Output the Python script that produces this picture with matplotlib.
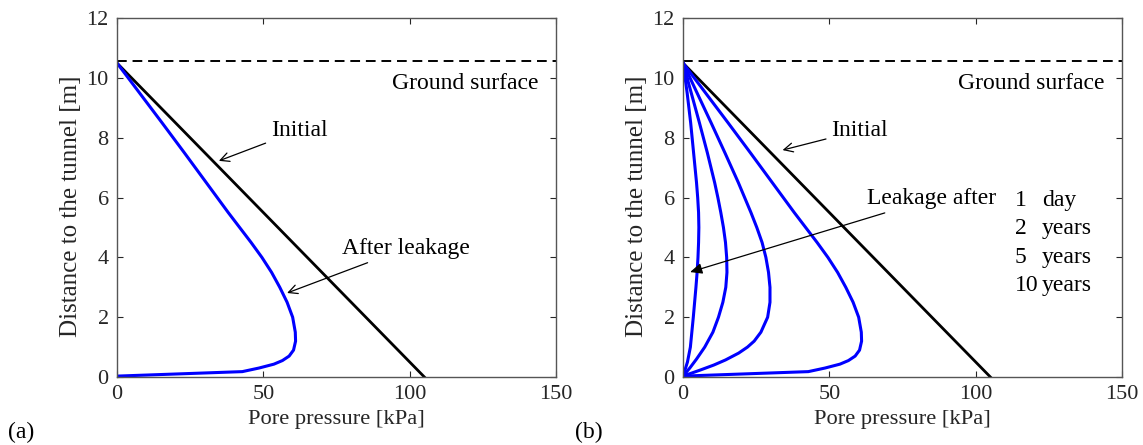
import matplotlib.pyplot as plt

plt.rcParams['font.family'] = ['Liberation Serif', 'DejaVu Serif']

# initial (hydrostatic) profile
init_p = [0, 105]
init_z = [10.5, 0]
ground_z = 10.58

# after 10 years of leakage (panel a and outermost curve of panel b)
z_10y = [10.5, 9.5, 8.5, 7.5, 6.5, 5.5, 4.5, 4.0, 3.5, 3.0, 2.5, 2.0, 1.5,
         1.2, 0.9, 0.7, 0.55, 0.43, 0.3, 0.18, 0.03]
p_10y = [0, 7.7, 15.4, 23.0, 30.5, 38.0, 45.8, 49.5, 52.8, 55.6, 58.1, 60.0,
         60.9, 61.0, 60.3, 58.8, 56.5, 53.6, 48.5, 42.8, 0]

# 1 day
z_1d = [10.5, 9.5, 8.5, 7.5, 6.5, 6.0, 5.5, 5.0, 4.5, 4.0, 3.5, 3.0, 2.0,
        1.0, 0.5, 0.03]
p_1d = [0, 1.4, 2.6, 3.6, 4.6, 5.0, 5.3, 5.4, 5.3, 5.1, 4.8, 4.4, 3.5,
        2.5, 1.5, 0]

# 2 years
z_2y = [10.5, 9.5, 8.5, 7.5, 6.5, 6.0, 5.5, 5.0, 4.5, 4.0, 3.5, 3.0, 2.5,
        2.0, 1.5, 1.0, 0.6, 0.3, 0.03]
p_2y = [0, 2.8, 5.6, 8.3, 10.8, 11.9, 12.9, 13.8, 14.5, 14.9, 15.0, 14.6,
        13.6, 12.1, 10.2, 7.4, 4.6, 2.3, 0]

# 5 years
z_5y = [10.5, 9.5, 8.5, 7.5, 6.5, 5.5, 5.0, 4.5, 4.0, 3.5, 3.0, 2.5, 2.0,
        1.5, 1.2, 1.0, 0.8, 0.57, 0.4, 0.23, 0.03]
p_5y = [0, 4.8, 9.6, 14.3, 18.9, 23.2, 25.2, 27.0, 28.3, 29.2, 29.7, 29.7,
        28.9, 26.6, 24.3, 22.0, 19.0, 14.5, 10.5, 5.8, 0]

durations = ['1', '2', '5', '10']
units = ['day', 'years', 'years', 'years']

axis_col = '#555555'
text_col = '#262626'

fig = plt.figure(figsize=(11.43, 4.45), dpi=100)
ax1 = fig.add_axes([0.1024, 0.1528, 0.3841, 0.8062])
ax2 = fig.add_axes([0.5976, 0.1528, 0.3841, 0.8062])

open_arrow = dict(arrowstyle='->,head_length=0.4,head_width=0.2', color='black',
                  lw=0.9, mutation_scale=16, shrinkA=2, shrinkB=0)
solid_arrow = dict(arrowstyle='-|>,head_length=0.45,head_width=0.2', color='black',
                   lw=0.9, mutation_scale=16, shrinkA=2, shrinkB=0)


def style(ax):
    ax.set_xlim(0, 150)
    ax.set_ylim(0, 12)
    ax.set_xticks([0, 50, 100, 150])
    ax.set_yticks([0, 2, 4, 6, 8, 10, 12])
    ax.tick_params(direction='in', top=True, right=True, length=4,
                   labelsize=16, colors=text_col, pad=6)
    for s in ax.spines.values():
        s.set_color(axis_col)
        s.set_linewidth(1.0)
    ax.set_xlabel('Pore pressure [kPa]', fontsize=16.2, color=text_col)
    ax.set_ylabel('Distance to the tunnel [m]', fontsize=18, color=text_col)
    ax.yaxis.set_label_coords(-0.08, 0.475)
    ax.axhline(ground_z, color='black', lw=1.4, ls=(0, (5, 3)))
    ax.plot(init_p, init_z, color='black', lw=2)
    ax.text(94, 9.83, 'Ground surface', fontsize=17, va='center')


# (a)
style(ax1)
ax1.plot(p_10y, z_10y, color='#0000ff', lw=2.2)
ax1.annotate('Initial', xy=(34.8, 7.23), xytext=(52.6, 8.25), fontsize=17,
             va='center', arrowprops=open_arrow)
ax1.annotate('After leakage', xy=(58.1, 2.81), xytext=(76.7, 4.3), fontsize=17,
             va='center', arrowprops=open_arrow)

# (b)
style(ax2)
for p, z in [(p_1d, z_1d), (p_2y, z_2y), (p_5y, z_5y), (p_10y, z_10y)]:
    ax2.plot(p, z, color='#0000ff', lw=2.2)
ax2.annotate('Initial', xy=(34.0, 7.59), xytext=(50.7, 8.25), fontsize=17,
             va='center', arrowprops=open_arrow)
ax2.annotate('Leakage after', xy=(2.4, 3.51), xytext=(62.7, 5.96), fontsize=17,
             va='center', arrowprops=solid_arrow)
rows_z = [5.92, 4.96, 3.99, 3.07]
for d, u, z in zip(durations, units, rows_z):
    ax2.text(113.3, z, d, fontsize=17, va='center')
    ax2.text(122.7, z, u, fontsize=17, va='center')

fig.text(0.007, 0.029, '(a)', fontsize=17, va='center')
fig.text(0.503, 0.029, '(b)', fontsize=17, va='center')

fig.savefig('out.png', dpi=100)
